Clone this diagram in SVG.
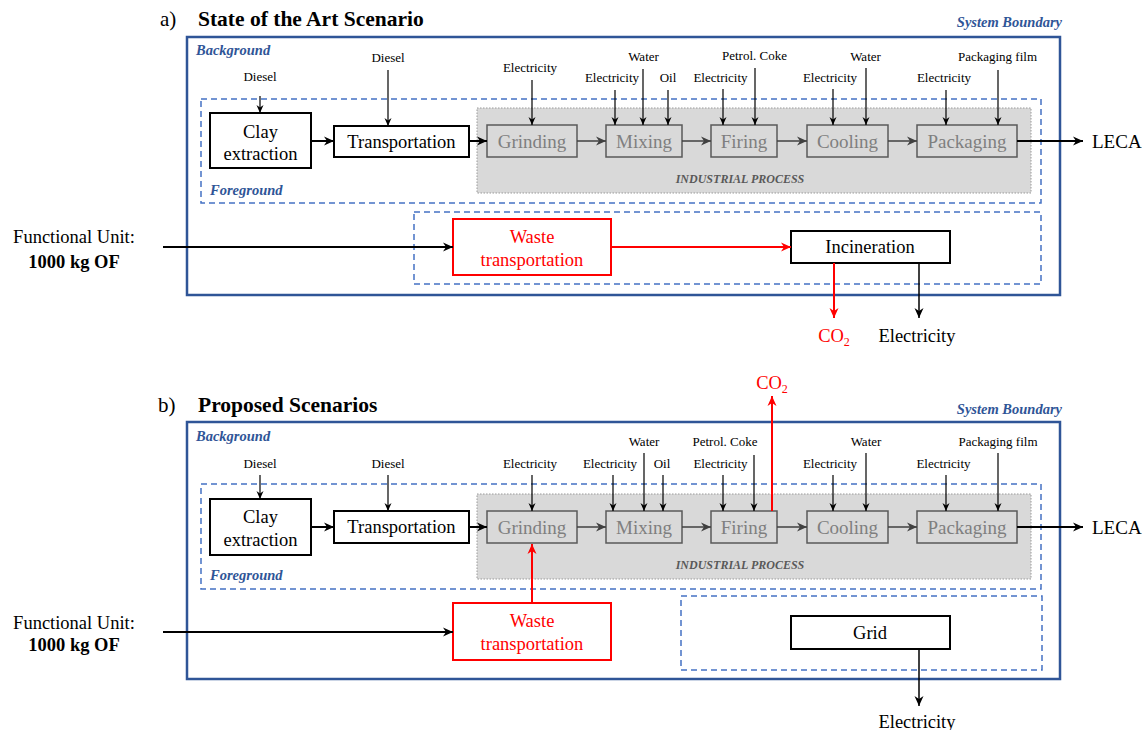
<svg xmlns="http://www.w3.org/2000/svg" width="1142" height="730" viewBox="0 0 1142 730">
<defs>
<marker id="ab" markerUnits="userSpaceOnUse" markerWidth="10" markerHeight="10" refX="10" refY="5" orient="auto"><path d="M0,0.5 L10,5 L0,9.5 L3,5 z" fill="#000"/></marker>
<marker id="ag" markerUnits="userSpaceOnUse" markerWidth="10" markerHeight="10" refX="10" refY="5" orient="auto"><path d="M0,0.5 L10,5 L0,9.5 L3,5 z" fill="#404040"/></marker>
<marker id="ar" markerUnits="userSpaceOnUse" markerWidth="10" markerHeight="10" refX="10" refY="5" orient="auto"><path d="M0,0.5 L10,5 L0,9.5 L3,5 z" fill="#ff0000"/></marker>
<marker id="as" markerUnits="userSpaceOnUse" markerWidth="8" markerHeight="8" refX="8" refY="4" orient="auto"><path d="M0,0.5 L8,4 L0,7.5 L2.5,4 z" fill="#000"/></marker>
</defs>
<style>
text{font-family:"Liberation Serif","Times New Roman",serif;}
.t{font-size:21.5px;font-weight:bold;fill:#000}
.h{font-size:21px;fill:#000}
.sb{font-size:14.5px;font-weight:bold;font-style:italic;fill:#2f5597}
.outer{fill:none;stroke:#2f5597;stroke-width:2.5}
.dash{fill:none;stroke:#4472c4;stroke-width:1.5;stroke-dasharray:6 4}
.ind{fill:#d9d9d9;stroke:#9a9a9a;stroke-width:1;stroke-dasharray:1.5 1.5}
.ip{font-size:12px;font-weight:bold;font-style:italic;fill:#595959;text-anchor:middle}
.bx{fill:#fff;stroke:#000;stroke-width:2}
.gb{fill:#d9d9d9;stroke:#595959;stroke-width:1.5}
.rb{fill:#fff;stroke:#ff0000;stroke-width:2}
.bt{font-size:18.5px;fill:#000;text-anchor:middle}
.gt{font-size:19px;fill:#7f7f7f;text-anchor:middle}
.rt{font-size:18.5px;fill:#ff0000;text-anchor:middle}
.lb{font-size:13px;fill:#000;text-anchor:middle}
.fu{font-size:18.5px;fill:#000;text-anchor:middle}
.fub{font-size:18.5px;font-weight:bold;fill:#000;text-anchor:middle}
.in{stroke:#000;stroke-width:1.2;fill:none;marker-end:url(#as)}
.fl{stroke:#000;stroke-width:2;fill:none;marker-end:url(#ab)}
.gf{stroke:#404040;stroke-width:1.5;fill:none;marker-end:url(#ag)}
.rf{stroke:#ff0000;stroke-width:2;fill:none;marker-end:url(#ar)}
.bf{stroke:#000;stroke-width:1.5;fill:none;marker-end:url(#ab)}
</style>

<!-- ===== Section a ===== -->
<g id="frame-a">
<text class="h" x="160" y="26">a)</text>
<text class="t" x="198" y="26">State of the Art Scenario</text>
<text class="sb" x="1062" y="27" text-anchor="end">System Boundary</text>
<rect class="outer" x="187" y="37" width="873" height="258"/>
<text class="sb" x="196" y="55">Background</text>
<rect class="dash" x="201" y="99" width="840" height="104"/>
<text class="sb" x="210" y="195">Foreground</text>
<rect class="ind" x="477" y="108" width="554" height="85"/>
<text class="ip" x="740" y="183">INDUSTRIAL PROCESS</text>
<rect class="dash" x="414" y="212" width="627" height="72"/>
</g>
<g id="a-clay"><rect class="bx" x="210" y="113" width="101" height="55"/><text class="bt" x="260.5" y="138">Clay</text><text class="bt" x="260.5" y="160">extraction</text></g>
<g id="a-transport"><rect class="bx" x="334" y="126" width="135" height="31"/><text class="bt" x="401.5" y="148">Transportation</text></g>
<g id="a-grinding"><rect class="gb" x="487" y="125" width="90" height="32"/><text class="gt" x="532" y="148">Grinding</text></g>
<g id="a-mixing"><rect class="gb" x="606" y="125" width="76" height="32"/><text class="gt" x="644" y="148">Mixing</text></g>
<g id="a-firing"><rect class="gb" x="711" y="125" width="66" height="32"/><text class="gt" x="744" y="148">Firing</text></g>
<g id="a-cooling"><rect class="gb" x="807" y="125" width="81" height="32"/><text class="gt" x="847.5" y="148">Cooling</text></g>
<g id="a-packaging"><rect class="gb" x="917" y="125" width="100" height="32"/><text class="gt" x="967" y="148">Packaging</text></g>
<g id="a-leca"><text x="1092" y="148" style="font-size:19px">LECA</text></g>
<g id="a-fu"><text class="fu" x="74" y="243">Functional Unit:</text><text class="fub" x="74" y="268">1000 kg OF</text></g>
<g id="a-waste"><rect class="rb" x="453" y="219" width="158" height="56"/><text class="rt" x="532" y="243">Waste</text><text class="rt" x="532" y="266">transportation</text></g>
<g id="a-incineration"><rect class="bx" x="791" y="231" width="159" height="32"/><text class="bt" x="870" y="253">Incineration</text></g>
<g id="a-outputs"><text x="834" y="342" style="font-size:18.5px;fill:#ff0000" text-anchor="middle">CO<tspan dy="4" style="font-size:12px">2</tspan></text><text class="bt" x="917" y="342">Electricity</text></g>
<g id="a-labels">
<text class="lb" x="260" y="81">Diesel</text>
<text class="lb" x="388" y="62">Diesel</text>
<text class="lb" x="530" y="72">Electricity</text>
<text class="lb" x="612" y="82">Electricity</text>
<text class="lb" x="643.5" y="61">Water</text>
<text class="lb" x="668" y="82">Oil</text>
<text class="lb" x="720.5" y="82">Electricity</text>
<text class="lb" x="754.5" y="60">Petrol. Coke</text>
<text class="lb" x="830" y="82">Electricity</text>
<text class="lb" x="865.5" y="61">Water</text>
<text class="lb" x="944" y="82">Electricity</text>
<text class="lb" x="997.5" y="61">Packaging film</text>
</g>

<!-- ===== Section b ===== -->
<g id="frame-b">
<text class="h" x="158" y="412">b)</text>
<text class="t" x="198" y="412">Proposed Scenarios</text>
<text class="sb" x="1062" y="414" text-anchor="end">System Boundary</text>
<rect class="outer" x="187" y="422" width="873" height="257"/>
<text class="sb" x="196" y="441">Background</text>
<rect class="dash" x="201" y="484" width="840" height="105"/>
<text class="sb" x="210" y="580">Foreground</text>
<rect class="ind" x="477" y="494" width="554" height="85"/>
<text class="ip" x="740" y="569">INDUSTRIAL PROCESS</text>
<rect class="dash" x="681" y="596" width="361" height="74"/>
</g>
<g id="b-clay"><rect class="bx" x="210" y="499" width="101" height="56"/><text class="bt" x="260.5" y="523">Clay</text><text class="bt" x="260.5" y="546">extraction</text></g>
<g id="b-transport"><rect class="bx" x="334" y="511" width="135" height="32"/><text class="bt" x="401.5" y="533">Transportation</text></g>
<g id="b-grinding"><rect class="gb" x="487" y="511" width="90" height="32"/><text class="gt" x="532" y="534">Grinding</text></g>
<g id="b-mixing"><rect class="gb" x="606" y="511" width="76" height="32"/><text class="gt" x="644" y="534">Mixing</text></g>
<g id="b-firing"><rect class="gb" x="711" y="511" width="66" height="32"/><text class="gt" x="744" y="534">Firing</text></g>
<g id="b-cooling"><rect class="gb" x="807" y="511" width="81" height="32"/><text class="gt" x="847.5" y="534">Cooling</text></g>
<g id="b-packaging"><rect class="gb" x="917" y="511" width="100" height="32"/><text class="gt" x="967" y="534">Packaging</text></g>
<g id="b-leca"><text x="1092" y="534" style="font-size:19px">LECA</text></g>
<g id="b-fu"><text class="fu" x="74" y="629">Functional Unit:</text><text class="fub" x="74" y="651">1000 kg OF</text></g>
<g id="b-waste"><rect class="rb" x="453" y="603" width="158" height="57"/><text class="rt" x="532" y="627">Waste</text><text class="rt" x="532" y="650">transportation</text></g>
<g id="b-grid"><rect class="bx" x="791" y="616" width="159" height="33"/><text class="bt" x="870" y="639">Grid</text></g>
<g id="b-outputs"><text x="772" y="389" style="font-size:18.5px;fill:#ff0000" text-anchor="middle">CO<tspan dy="4" style="font-size:12px">2</tspan></text><text class="bt" x="917" y="728">Electricity</text></g>
<g id="b-labels">
<text class="lb" x="260" y="468">Diesel</text>
<text class="lb" x="388" y="468">Diesel</text>
<text class="lb" x="530" y="468">Electricity</text>
<text class="lb" x="610" y="468">Electricity</text>
<text class="lb" x="644" y="446">Water</text>
<text class="lb" x="662" y="468">Oil</text>
<text class="lb" x="720.5" y="468">Electricity</text>
<text class="lb" x="725" y="446">Petrol. Coke</text>
<text class="lb" x="830" y="468">Electricity</text>
<text class="lb" x="866" y="446">Water</text>
<text class="lb" x="943.5" y="468">Electricity</text>
<text class="lb" x="998" y="446">Packaging film</text>
</g>

<g id="connectors">
<!-- a inputs -->
<line class="in" x1="260" y1="96" x2="260" y2="113"/>
<line class="in" x1="388" y1="70" x2="388" y2="126"/>
<line class="in" x1="532" y1="80" x2="532" y2="125"/>
<line class="in" x1="615" y1="90" x2="615" y2="125"/>
<line class="in" x1="643" y1="69" x2="643" y2="125"/>
<line class="in" x1="668" y1="90" x2="668" y2="125"/>
<line class="in" x1="723" y1="89" x2="723" y2="125"/>
<line class="in" x1="755" y1="68" x2="755" y2="125"/>
<line class="in" x1="833" y1="89" x2="833" y2="125"/>
<line class="in" x1="866" y1="68" x2="866" y2="125"/>
<line class="in" x1="946" y1="90" x2="946" y2="125"/>
<line class="in" x1="998" y1="70" x2="998" y2="125"/>
<!-- a flow -->
<line class="fl" x1="311" y1="141" x2="334" y2="141"/>
<line class="fl" x1="469" y1="141" x2="487" y2="141"/>
<line class="gf" x1="577" y1="141" x2="606" y2="141"/>
<line class="gf" x1="682" y1="141" x2="711" y2="141"/>
<line class="gf" x1="777" y1="141" x2="807" y2="141"/>
<line class="gf" x1="888" y1="141" x2="917" y2="141"/>
<line class="fl" x1="1017" y1="141" x2="1083" y2="141"/>
<line class="fl" x1="163" y1="247" x2="453" y2="247"/>
<line class="rf" x1="611" y1="247" x2="791" y2="247"/>
<line class="rf" x1="834" y1="263" x2="834" y2="318"/>
<line class="bf" x1="919" y1="263" x2="919" y2="318"/>
<!-- b inputs -->
<line class="in" x1="260" y1="475" x2="260" y2="499"/>
<line class="in" x1="388" y1="475" x2="388" y2="511"/>
<line class="in" x1="532" y1="475" x2="532" y2="511"/>
<line class="in" x1="613" y1="475" x2="613" y2="511"/>
<line class="in" x1="644" y1="453" x2="644" y2="511"/>
<line class="in" x1="663" y1="475" x2="663" y2="511"/>
<line class="in" x1="723" y1="475" x2="723" y2="511"/>
<line class="in" x1="754" y1="455" x2="754" y2="511"/>
<line class="in" x1="833" y1="475" x2="833" y2="511"/>
<line class="in" x1="866" y1="453" x2="866" y2="511"/>
<line class="in" x1="946" y1="475" x2="946" y2="511"/>
<line class="in" x1="998" y1="453" x2="998" y2="511"/>
<!-- b flow -->
<line class="fl" x1="311" y1="527" x2="334" y2="527"/>
<line class="fl" x1="469" y1="527" x2="487" y2="527"/>
<line class="gf" x1="577" y1="527" x2="606" y2="527"/>
<line class="gf" x1="682" y1="527" x2="711" y2="527"/>
<line class="gf" x1="777" y1="527" x2="807" y2="527"/>
<line class="gf" x1="888" y1="527" x2="917" y2="527"/>
<line class="fl" x1="1017" y1="527" x2="1083" y2="527"/>
<line class="rf" x1="772" y1="511" x2="772" y2="396"/>
<line class="fl" x1="163" y1="632" x2="453" y2="632"/>
<line class="rf" x1="532" y1="603" x2="532" y2="544"/>
<line class="bf" x1="919" y1="649" x2="919" y2="706"/>
</g>
</svg>
